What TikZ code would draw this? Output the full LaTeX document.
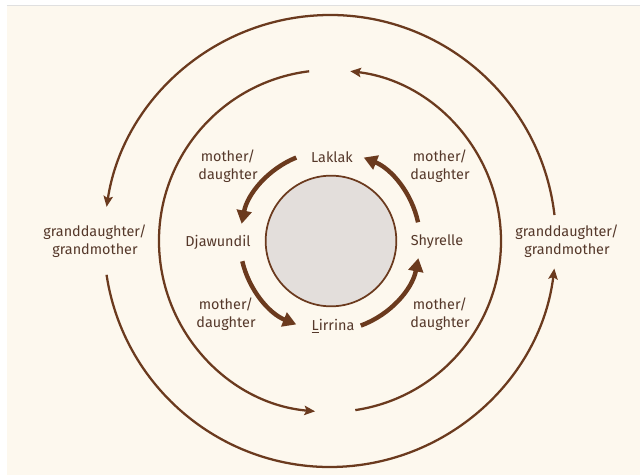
\documentclass[tikz,border=0pt]{standalone}
\usepackage{fontspec}
\setmainfont{Fira Sans}
\usetikzlibrary{arrows.meta}
\definecolor{bark}{HTML}{6B3A1E}
\definecolor{ink}{HTML}{55382A}
\definecolor{cream}{HTML}{FDF8EE}
\definecolor{stone}{HTML}{E3DEDB}
\tikzset{
  kin/.style={text=ink, font=\fontsize{10.8}{13.5}\selectfont, align=center},
  ring arrow/.style={bark, line width=1.7pt, -{Stealth[length=8pt,width=7pt,inset=1.5pt]}},
  skin arrow/.style={bark, line width=3.3pt, -{Triangle[length=10pt,width=11pt]}},
}

\begin{document}
\begin{tikzpicture}[x=0.75pt,y=0.75pt]
\useasboundingbox (-330,-234) rectangle (310,241);
\fill[white] (-330,-234) rectangle (310,241);
\fill[cream] (-323,-234) rectangle (310,236);
\draw[black!12] (-323,236) -- (310,236);
% centre
\node[circle, draw=bark, line width=1.3pt, fill=stone, minimum size=98pt] (sun) at (1,0) {};
% names
\node[kin] (laklak) at (2,84) {Laklak};
\node[kin] (djawundil) at (-112,-1) {Djawundil};
\node[kin] (lirrina) at (3,-85) {\underline{L}irrina};
\node[kin] (shyrelle) at (107,-1) {Shyrelle};
% relations
\node[kin] (md1) at (-102,75) {mother/\\daughter};
\node[kin] (md2) at (110,75) {mother/\\daughter};
\node[kin] (md3) at (-104,-73) {mother/\\daughter};
\node[kin] (md4) at (110,-73) {mother/\\daughter};
\node[kin] (gg1) at (-235,0) {granddaughter/\\grandmother};
\node[kin] (gg2) at (237,0) {granddaughter/\\grandmother};
% mother/daughter ring
\foreach \a/\b [count=\i] in {112/169, 193/248, 290/349, 12/68} {
  \coordinate (m\i) at (\a:90);
  \draw[skin arrow] (m\i) arc[start angle=\a, end angle=\b, radius=90];
}
% inner ring
\foreach \a/\b [count=\i] in {97/265, -81.5/83.2} {
  \coordinate (r\i) at (\a:171);
  \draw[ring arrow] (r\i) arc[start angle=\a, end angle=\b, radius=171];
}
% outer ring
\foreach \a/\b [count=\i] in {6.6/171.3, 188.6/353} {
  \coordinate (o\i) at (\a:226);
  \draw[ring arrow] (o\i) arc[start angle=\a, end angle=\b, radius=226];
}
\end{tikzpicture}
\end{document}
